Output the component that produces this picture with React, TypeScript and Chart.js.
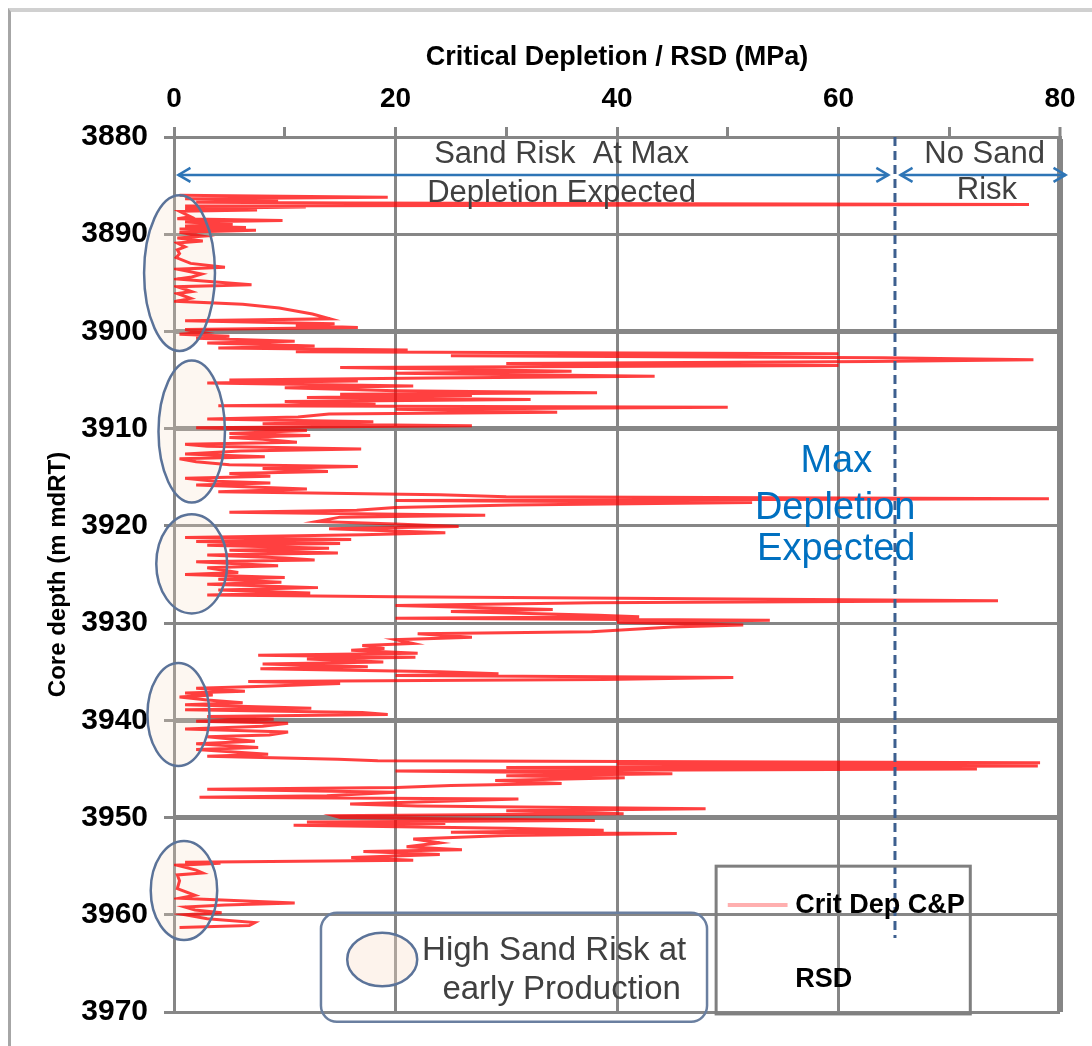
import React, { useEffect, useRef } from 'react';
import { Chart, registerables } from 'chart.js';

Chart.register(...registerables);

const FONT = '"Liberation Sans", Arial, sans-serif';

// Core depth (m mdRT)
const depths = [
  3886.0, 3886.2, 3886.35, 3886.5, 3886.7, 3886.8, 3886.95, 3887.1, 3887.2, 3887.35,
  3887.5, 3887.65, 3888.2, 3888.4, 3888.6, 3888.75, 3889.0, 3889.15, 3889.3, 3889.45,
  3889.6, 3889.8, 3890.2, 3890.4, 3890.7, 3890.9, 3891.3, 3891.6, 3892.0, 3892.4,
  3893.0, 3893.4, 3893.6, 3894.1, 3894.4, 3894.6, 3895.2, 3895.4, 3895.9, 3896.1,
  3896.6, 3896.9, 3897.2, 3897.6, 3898.2, 3898.7, 3898.9, 3899.2, 3899.4, 3899.6,
  3899.8, 3900.1, 3900.3, 3900.5, 3900.7, 3901.0, 3901.2, 3901.5, 3901.7, 3901.9,
  3902.1, 3902.3, 3902.5, 3902.7, 3902.9, 3903.1, 3903.3, 3903.5, 3903.7, 3904.1,
  3904.3, 3904.6, 3904.8, 3905.0, 3905.1, 3905.3, 3905.6, 3905.8, 3906.1, 3906.3,
  3906.45, 3906.6, 3906.8, 3907.0, 3907.2, 3907.5, 3907.65, 3907.8, 3908.0, 3908.3,
  3908.5, 3908.8, 3909.0, 3909.3, 3909.5, 3909.7, 3909.9, 3910.2, 3910.5, 3910.7,
  3910.9, 3911.1, 3911.4, 3911.6, 3911.8, 3912.1, 3912.3, 3912.6, 3912.9, 3913.1,
  3913.4, 3913.7, 3913.9, 3914.1, 3914.4, 3914.6, 3914.9, 3915.1, 3915.4, 3915.6,
  3915.8, 3916.2, 3916.5, 3916.8, 3917.0, 3917.2, 3917.4, 3917.6, 3917.85, 3918.1,
  3918.4, 3918.6, 3918.9, 3919.1, 3919.55, 3919.8, 3920.06, 3920.3, 3920.7, 3920.9,
  3921.2, 3921.4, 3921.6, 3921.8, 3922.0, 3922.3, 3922.5, 3922.8, 3923.0, 3923.3,
  3923.5, 3923.7, 3924.1, 3924.3, 3924.8, 3925.0, 3925.3, 3925.5, 3925.8, 3926.0,
  3926.35, 3926.6, 3926.9, 3927.1, 3927.3, 3927.7, 3927.9, 3928.2, 3928.6, 3928.8,
  3929.2, 3929.35, 3929.5, 3929.7, 3929.9, 3930.2, 3930.4, 3930.9, 3931.1, 3931.45,
  3931.7, 3932.1, 3932.3, 3932.6, 3932.8, 3933.1, 3933.3, 3933.5, 3933.7, 3934.0,
  3934.2, 3934.5, 3934.7, 3935.0, 3935.2, 3935.4, 3935.6, 3935.8, 3936.0, 3936.2,
  3936.5, 3936.7, 3937.0, 3937.2, 3937.4, 3937.6, 3937.9, 3938.2, 3938.4, 3938.75,
  3938.9, 3939.2, 3939.4, 3939.6, 3939.9, 3940.1, 3940.3, 3940.6, 3940.9, 3941.2,
  3941.5, 3941.7, 3942.15, 3942.4, 3942.8, 3943.0, 3943.5, 3943.7, 3944.0, 3944.15,
  3944.35, 3944.5, 3944.7, 3944.85, 3945.0, 3945.2, 3945.5, 3945.7, 3945.9, 3946.2,
  3946.5, 3946.7, 3946.9, 3947.1, 3947.4, 3947.75, 3947.9, 3948.1, 3948.3, 3948.6,
  3948.8, 3949.1, 3949.3, 3949.6, 3949.8, 3950.0, 3950.3, 3950.45, 3950.6, 3950.8,
  3951.1, 3951.3, 3951.5, 3951.65, 3951.85, 3952.2, 3952.6, 3953.0, 3953.3, 3953.5,
  3953.8, 3954.1, 3954.4, 3954.6, 3954.7, 3954.9, 3955.4, 3955.7, 3955.9, 3956.5,
  3957.3, 3958.0, 3958.3, 3958.8, 3959.0, 3959.2, 3959.5, 3959.8, 3960.0, 3960.4,
  3960.8, 3961.1, 3961.3,
];

// Crit Dep C&P (MPa)
const critDep = [
  0.5, 19.3, 1.0, 9.4, 2.0, 16.0, 77.2, 1.0, 11.9, 1.0,
  7.5, 0.5, 1.5, 0.3, 9.8, 1.0, 5.3, 1.0, 6.5, 0.5,
  7.4, 0.5, 2.6, 0.3, 2.6, 0.3, 1.0, 0.3, 0.5, 0.2,
  1.5, 4.6, 0.3, 2.5, 1.6, 0.3, 7.0, 0.3, 1.6, 0.3,
  1.5, 0.2, 6.2, 9.5, 12.5, 14.1, 1.0, 14.5, 11.0, 16.6,
  1.0, 2.6, 0.5, 5.0, 2.0, 10.9, 3.0, 12.7, 4.0, 21.1,
  11.0, 60.0, 25.0, 64.0, 77.6, 63.0, 30.0, 60.0, 15.0, 35.9,
  20.0, 43.4, 23.3, 5.0, 16.6, 3.0, 21.6, 10.0, 20.0, 38.2,
  15.0, 26.9, 12.0, 32.2, 10.0, 18.2, 4.0, 50.0, 20.0, 34.6,
  14.0, 11.2, 3.0, 18.0, 8.0, 26.9, 2.0, 12.0, 5.0, 12.3,
  5.0, 8.0, 11.1, 1.0, 3.0, 16.9, 6.0, 1.0, 8.2, 0.5,
  2.0, 5.0, 16.6, 8.0, 13.9, 5.0, 8.7, 1.0, 3.7, 8.7,
  2.0, 12.0, 4.0, 24.0, 30.0, 79.0, 20.0, 52.2, 30.6, 20.0,
  16.5, 5.0, 28.1, 15.0, 12.9, 20.0, 25.7, 14.0, 24.5, 17.0,
  1.0, 16.0, 2.0, 15.0, 3.0, 14.0, 5.0, 14.8, 3.0, 10.0,
  12.7, 2.0, 9.4, 3.0, 5.8, 1.0, 10.0, 4.0, 9.7, 3.0,
  13.0, 4.0, 12.3, 3.0, 20.0, 74.4, 37.9, 20.0, 34.2, 25.0,
  38.3, 42.0, 20.0, 53.8, 40.0, 51.4, 45.0, 37.7, 22.0, 26.9,
  20.0, 21.6, 17.0, 19.0, 16.0, 22.0, 7.6, 21.8, 12.0, 18.9,
  8.0, 17.5, 7.8, 24.0, 29.3, 20.0, 50.5, 38.8, 6.7, 15.0,
  8.2, 2.0, 6.4, 1.0, 3.5, 0.5, 3.0, 6.2, 1.0, 12.4,
  1.0, 17.0, 19.3, 3.0, 9.0, 2.0, 10.3, 8.0, 1.0, 10.3,
  8.6, 3.0, 7.3, 2.0, 7.6, 2.0, 8.5, 3.0, 14.8, 18.4,
  78.2, 40.0, 78.0, 30.0, 72.5, 20.0, 45.0, 30.0, 40.7, 29.0,
  35.0, 25.0, 20.1, 3.0, 20.0, 13.8, 2.3, 31.1, 25.0, 15.9,
  22.0, 48.0, 30.0, 40.6, 14.4, 15.0, 38.0, 12.0, 24.5, 10.8,
  30.0, 38.8, 25.0, 45.4, 30.0, 21.6, 24.0, 21.0, 26.0, 17.1,
  24.0, 16.0, 21.6, 1.0, 4.2, 0.3, 2.0, 2.6, 0.3, 0.5,
  0.3, 1.9, 0.5, 10.9, 4.6, 1.0, 1.9, 4.3, 1.0, 3.0,
  7.3, 6.8, 0.5,
];

const xTickLabels = [0, 20, 40, 60, 80];
const thickDepthLines = [3900, 3910, 3940, 3950];

// Annotation geometry, in data units
const maxDepletion = 65.1;
const maxDepletionLineEnd = 3962.4;
const arrowDepth = 3883.9;
const riskZoneDepths = [3894.0, 3910.3, 3923.9, 3939.4, 3957.5];
const riskZoneValues = [0.5, 1.6, 1.6, 0.4, 0.9];
const riskZoneHalfDepths = [8.0, 7.3, 5.1, 5.3, 5.1];
const riskZoneHalfValues = [3.2, 3.0, 3.2, 2.8, 3.0];

const annotationPlugin = {
  id: 'sandAnnotations',
  beforeDatasetsDraw(chart: any) {
    const { ctx } = chart;
    const x = chart.scales.x;
    const y = chart.scales.y;
    ctx.save();
    ctx.fillStyle = 'rgba(248,222,200,0.25)';
    for (let i = 0; i < riskZoneDepths.length; i++) {
      const cx = x.getPixelForValue(riskZoneValues[i]);
      const cy = y.getPixelForValue(riskZoneDepths[i]);
      const rx = Math.abs(x.getPixelForValue(riskZoneValues[i] + riskZoneHalfValues[i]) - cx);
      const ry = Math.abs(y.getPixelForValue(riskZoneDepths[i] + riskZoneHalfDepths[i]) - cy);
      ctx.beginPath();
      ctx.ellipse(cx, cy, rx, ry, 0, 0, Math.PI * 2);
      ctx.fill();
    }
    ctx.restore();
  },
  afterDatasetsDraw(chart: any) {
    const { ctx } = chart;
    const x = chart.scales.x;
    const y = chart.scales.y;
    const px = (v: number) => x.getPixelForValue(v);
    const py = (d: number) => y.getPixelForValue(d);
    ctx.save();

    // risk zone outlines
    ctx.strokeStyle = '#5B7399';
    ctx.lineWidth = 2.5;
    for (let i = 0; i < riskZoneDepths.length; i++) {
      const cx = px(riskZoneValues[i]);
      const cy = py(riskZoneDepths[i]);
      const rx = Math.abs(px(riskZoneValues[i] + riskZoneHalfValues[i]) - cx);
      const ry = Math.abs(py(riskZoneDepths[i] + riskZoneHalfDepths[i]) - cy);
      ctx.beginPath();
      ctx.ellipse(cx, cy, rx, ry, 0, 0, Math.PI * 2);
      ctx.stroke();
    }

    // texts at top
    ctx.fillStyle = '#404040';
    ctx.textAlign = 'center';
    ctx.textBaseline = 'middle';
    ctx.font = `31px ${FONT}`;
    ctx.fillText('Sand Risk  At Max', px(35.0), py(3881.8));
    ctx.fillText('Depletion Expected', px(35.0), py(3885.8));
    ctx.fillText('No Sand', px(73.2), py(3881.8));
    ctx.fillText('Risk', px(73.4), py(3885.5));

    // Max depletion text
    ctx.fillStyle = '#0070C0';
    ctx.font = `38px ${FONT}`;
    ctx.fillText('Max', px(59.8), py(3913.4));
    ctx.fillText('Depletion', px(59.7), py(3918.2));
    ctx.fillText('Expected', px(59.8), py(3922.4));

    // arrows
    ctx.strokeStyle = '#2E75B6';
    ctx.lineWidth = 2.5;
    const ay = py(arrowDepth);
    const drawArrow = (x1: number, x2: number) => {
      ctx.beginPath();
      ctx.moveTo(x1, ay);
      ctx.lineTo(x2, ay);
      ctx.stroke();
      const h = 12, w = 7;
      ctx.beginPath();
      ctx.moveTo(x1 + h, ay - w);
      ctx.lineTo(x1, ay);
      ctx.lineTo(x1 + h, ay + w);
      ctx.stroke();
      ctx.beginPath();
      ctx.moveTo(x2 - h, ay - w);
      ctx.lineTo(x2, ay);
      ctx.lineTo(x2 - h, ay + w);
      ctx.stroke();
    };
    drawArrow(px(0.4), px(64.5));
    drawArrow(px(65.6), px(80.5));

    // dashed max-depletion line
    ctx.setLineDash([9, 5]);
    ctx.strokeStyle = '#3D5F8F';
    ctx.lineWidth = 3;
    ctx.beginPath();
    ctx.moveTo(px(maxDepletion), py(3880));
    ctx.lineTo(px(maxDepletion), py(maxDepletionLineEnd));
    ctx.stroke();
    ctx.setLineDash([]);

    // legend box
    ctx.strokeStyle = '#7F7F7F';
    ctx.lineWidth = 3;
    const lx1 = px(48.95), lx2 = px(71.9), ly1 = py(3955.0), ly2 = py(3970.2);
    ctx.strokeRect(lx1, ly1, lx2 - lx1, ly2 - ly1);
    ctx.strokeStyle = 'rgba(255,110,110,0.55)';
    ctx.lineWidth = 4;
    ctx.beginPath();
    ctx.moveTo(px(50.0), py(3959.0));
    ctx.lineTo(px(55.4), py(3959.0));
    ctx.stroke();
    ctx.fillStyle = '#000';
    ctx.textAlign = 'left';
    ctx.font = `bold 27px ${FONT}`;
    ctx.fillText('Crit Dep C&P', px(56.1), py(3959.0));
    ctx.fillText('RSD', px(56.1), py(3966.7));

    // note box
    ctx.strokeStyle = '#6A7FA0';
    ctx.lineWidth = 2.5;
    const nx1 = px(13.27), nx2 = px(48.13), ny1 = py(3959.8), ny2 = py(3971.0);
    ctx.beginPath();
    ctx.roundRect(nx1, ny1, nx2 - nx1, ny2 - ny1, 16);
    ctx.stroke();
    const ecx = px(18.8), ecy = py(3964.6);
    const erx = Math.abs(px(18.8 + 3.16) - ecx), ery = Math.abs(py(3964.6 + 2.75) - ecy);
    ctx.beginPath();
    ctx.ellipse(ecx, ecy, erx, ery, 0, 0, Math.PI * 2);
    ctx.fillStyle = 'rgba(248,222,200,0.35)';
    ctx.fill();
    ctx.strokeStyle = '#5B7399';
    ctx.stroke();
    ctx.fillStyle = '#404040';
    ctx.font = `33px ${FONT}`;
    ctx.textAlign = 'left';
    ctx.fillText('High Sand Risk at', px(22.4), py(3963.7));
    ctx.textAlign = 'center';
    ctx.fillText('early Production', px(35.0), py(3967.7));

    ctx.restore();
  },
};

export default function App() {
  const ref = useRef<HTMLCanvasElement>(null);

  useEffect(() => {
    if (!ref.current) return;
    const points = depths.map((d, i) => ({ x: critDep[i], y: d }));
    const chart = new Chart(ref.current, {
      type: 'scatter',
      data: {
        datasets: [
          {
            label: 'Crit Dep C&P',
            data: points,
            showLine: true,
            borderColor: 'rgba(255,0,0,0.75)',
            backgroundColor: 'rgba(255,0,0,0.75)',
            borderWidth: 3,
            pointRadius: 0,
            tension: 0,
          },
        ],
      },
      options: {
        animation: false,
        responsive: false,
        maintainAspectRatio: false,
        layout: { padding: { left: 0, top: 0, right: 32, bottom: 26 } },
        plugins: {
          legend: { display: false },
          tooltip: { enabled: false },
        },
        scales: {
          x: {
            type: 'linear',
            position: 'top',
            min: 0,
            max: 80,
            afterFit: (s: any) => {
              s.height = 137;
            },
            ticks: {
              stepSize: 10,
              autoSkip: false,
              maxRotation: 0,
              callback: (v: any) => (xTickLabels.includes(Number(v)) ? String(v) : ''),
              font: { family: FONT, size: 28, weight: 'bold' },
              color: '#000',
              padding: 11,
            },
            grid: {
              color: (c: any) => {
                const v = c.tick ? c.tick.value : null;
                return v !== null && v !== 0 && v % 20 === 0 ? '#868686' : 'rgba(0,0,0,0)';
              },
              lineWidth: (c: any) => (c.tick && c.tick.value === 80 ? 6 : 3),
              tickColor: '#868686',
              tickWidth: 3,
              tickLength: 10,
              drawTicks: true,
            },
            border: { display: true, color: '#868686', width: 3 },
            title: {
              display: true,
              text: 'Critical Depletion / RSD (MPa)',
              color: '#000',
              font: { family: FONT, size: 27, weight: 'bold' },
              padding: { top: 41, bottom: 0 },
            },
          },
          y: {
            type: 'linear',
            reverse: true,
            min: 3880,
            max: 3970,
            afterFit: (s: any) => {
              s.width = 174;
            },
            ticks: {
              stepSize: 10,
              autoSkip: false,
              callback: (v: any) => String(v),
              font: { family: FONT, size: 30, weight: 'bold' },
              color: '#000',
              padding: 16,
            },
            grid: {
              color: '#868686',
              lineWidth: (c: any) => (c.tick && thickDepthLines.includes(c.tick.value) ? 5 : 3),
              tickColor: '#868686',
              tickWidth: 3,
              tickLength: 10,
              drawTicks: true,
            },
            border: { display: true, color: '#868686', width: 3 },
            title: {
              display: true,
              text: 'Core depth (m mdRT)',
              color: '#000',
              font: { family: FONT, size: 24, weight: 'bold' },
              padding: { top: 44, bottom: 0 },
            },
          },
        },
      },
      plugins: [annotationPlugin],
    } as any);
    return () => chart.destroy();
  }, []);

  return (
    <div style={{ position: 'absolute', left: 0, top: 0, width: 1092, height: 1046, background: '#fff', overflow: 'hidden' }}>
      <div
        style={{
          position: 'absolute',
          left: 8,
          top: 8,
          width: 1100,
          height: 1100,
          borderTop: '4px solid #d0d0d0',
          borderLeft: '3px solid #a6a6a6',
        }}
      />
      <canvas ref={ref} width={1092} height={1046} style={{ position: 'absolute', left: 0, top: 0 }} />
    </div>
  );
}
